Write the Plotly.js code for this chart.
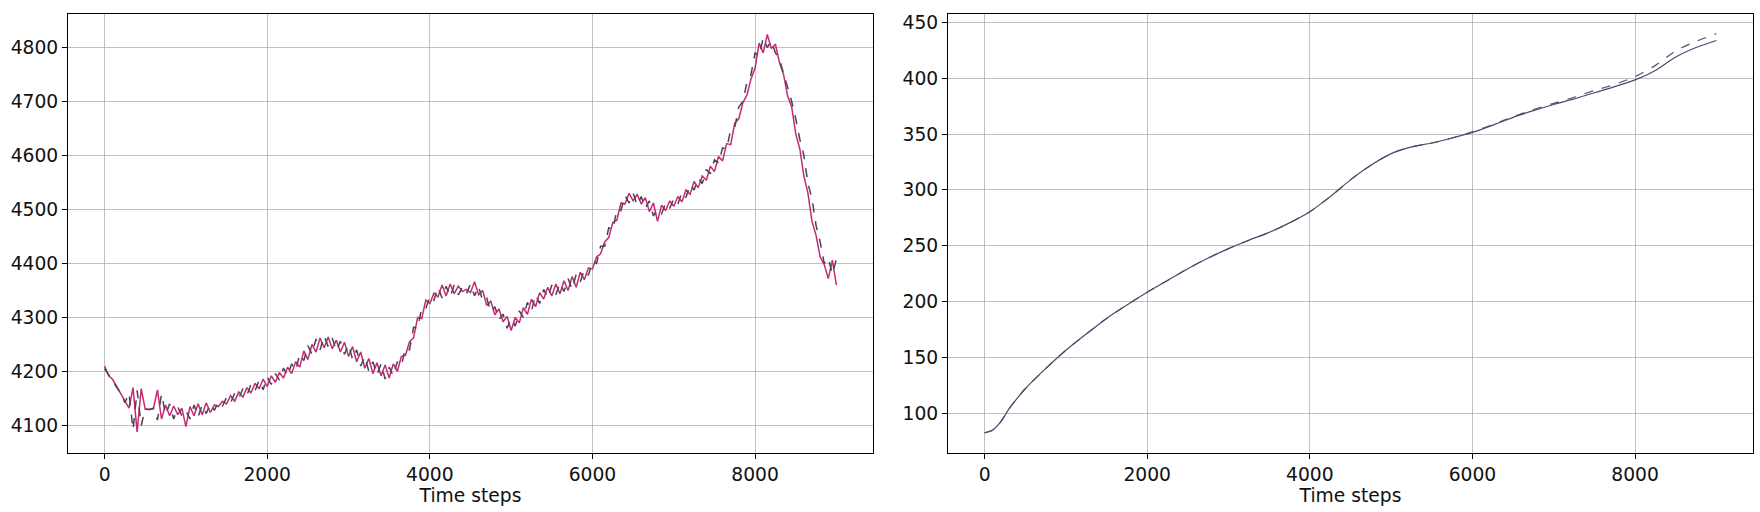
<!DOCTYPE html>
<html>
<head>
<meta charset="utf-8">
<script src="https://cdn.plot.ly/plotly-3.0.1.min.js"></script>
<style>html,body{margin:0;padding:0;background:#fff;}#chart{width:1760px;height:512px;}</style>
</head>
<body>
<div id="chart"></div>
<script>
// Left panel: time steps every 50
const leftSteps = [];
for (let i = 0; i <= 9000; i += 50) leftSteps.push(i);

const leftActual = [
4210,4192,4185,4172,4158,4145,4132,4170,4088,4168,
4130,4130,4131,4166,4112,4138,4118,4136,4120,4132,
4098,4135,4118,4140,4120,4142,4124,4138,4135,4145,
4140,4155,4145,4162,4152,4170,4160,4178,4168,4186,
4172,4192,4180,4198,4188,4208,4196,4218,4208,4238,
4222,4250,4236,4262,4244,4264,4242,4258,4236,4254,
4228,4246,4218,4236,4206,4224,4196,4216,4192,4212,
4188,4214,4200,4228,4230,4255,4262,4300,4298,4332,
4326,4345,4338,4360,4340,4362,4344,4358,4348,4352,
4346,4366,4342,4350,4322,4330,4305,4316,4292,4302,
4276,4300,4290,4318,4306,4334,4320,4346,4334,4356,
4340,4362,4344,4368,4350,4376,4356,4384,4370,4392,
4390,4412,4418,4440,4448,4476,4480,4512,4510,4530,
4516,4528,4510,4522,4496,4512,4478,4508,4498,4516,
4506,4524,4514,4536,4528,4552,4540,4562,4554,4580,
4570,4598,4590,4622,4620,4660,4668,4698,4712,4742,
4762,4808,4790,4824,4798,4806,4772,4750,4710,4690,
4640,4612,4562,4530,4478,4452,4412,4398,4372,4406,
4360
];

const leftPredicted = [
4205,4195,4183,4170,4160,4142,4160,4092,4165,4100,
4131,4129,4132,4110,4158,4120,4140,4112,4134,4118,
4128,4112,4138,4116,4138,4122,4140,4128,4144,4136,
4152,4142,4160,4150,4168,4156,4176,4164,4184,4166,
4190,4176,4196,4184,4206,4192,4214,4202,4232,4220,
4248,4232,4260,4240,4266,4246,4262,4238,4256,4232,
4250,4222,4240,4210,4228,4200,4218,4194,4214,4186,
4208,4192,4218,4210,4244,4240,4282,4280,4318,4316,
4340,4332,4356,4336,4358,4338,4360,4342,4356,4344,
4362,4340,4358,4330,4336,4310,4320,4296,4306,4280,
4298,4284,4312,4300,4328,4312,4342,4326,4352,4336,
4360,4342,4364,4348,4372,4352,4380,4366,4388,4378,
4404,4400,4432,4432,4466,4462,4500,4498,4526,4512,
4530,4508,4524,4502,4516,4488,4500,4492,4512,4502,
4520,4510,4532,4522,4546,4536,4558,4548,4574,4566,
4592,4586,4614,4612,4648,4652,4690,4700,4736,4750,
4790,4784,4818,4800,4812,4790,4778,4752,4726,4700,
4668,4630,4600,4548,4520,4470,4440,4400,4410,4380,
4408
];

// Right panel
const rightSteps = [0,100,200,300,400,500,750,1000,1250,1500,1750,2000,2250,2500,2750,3000,3250,3500,3750,4000,4250,4500,4750,5000,5250,5500,5750,6000,6250,6500,6750,7000,7250,7500,7750,8000,8250,8500,8750,9000];
const rightActual = [82.5,85,92.5,104,113.5,122,140,156.5,171,185,197,208.5,219,229.5,239,247.5,255,262,270.5,280.5,294,309,322,332.5,338.5,342,346.5,351.5,358,365,371,376.5,381.5,387,392.5,398.5,407,419,427.5,433.8];
const rightPredicted = [82.5,85,92.5,104,113.5,122,140,156.5,171,185,197,208.5,219,229.5,239,247.5,255,262,270.5,280.5,294,309,322,332.5,338.5,342,346.5,352,358.5,365.5,372,377.5,383,389,394.5,401.5,411.5,424.5,433,439.8];

const xTicks = [0,2000,4000,6000,8000];
const leftYTicks = [4100,4200,4300,4400,4500,4600,4700,4800];
const rightYTicks = [100,150,200,250,300,350,400,450];

const font = {family: 'DejaVu Sans', size: 18.7, color: '#111'};

const traces = [
  {x: leftSteps, y: leftActual, xaxis: 'x', yaxis: 'y', type: 'scatter', mode: 'lines',
   line: {color: '#c41e6a', width: 1.5}, opacity: 0.95},
  {x: leftSteps, y: leftPredicted, xaxis: 'x', yaxis: 'y', type: 'scatter', mode: 'lines',
   line: {color: '#464655', width: 1.5, dash: 'dash'}, opacity: 1},
  {x: rightSteps, y: rightPredicted, xaxis: 'x2', yaxis: 'y2', type: 'scatter', mode: 'lines',
   line: {color: '#555560', width: 1.2, dash: 'dash', shape: 'spline', smoothing: 0.8}},
  {x: rightSteps, y: rightActual, xaxis: 'x2', yaxis: 'y2', type: 'scatter', mode: 'lines',
   line: {color: '#4a4a6e', width: 1.2, shape: 'spline', smoothing: 0.8}}
];

function xax(domain, anchor) {
  return {domain: domain, anchor: anchor, range: [-450, 9450], tickvals: xTicks,
    ticktext: xTicks.map(String), showline: true, mirror: true, linecolor: '#000', linewidth: 1,
    ticks: 'outside', ticklen: 5, tickcolor: '#000', showgrid: true, gridcolor: '#b0b0b0', gridwidth: 0.8,
    zeroline: false, tickfont: font, title: {text: 'Time steps', font: font, standoff: 2}};
}
function yax(domain, anchor, range, ticks) {
  return {domain: domain, anchor: anchor, range: range, tickvals: ticks, ticktext: ticks.map(String),
    showline: true, mirror: true, linecolor: '#000', linewidth: 1,
    ticks: 'outside', ticklen: 5, tickcolor: '#000', showgrid: true, gridcolor: '#b0b0b0', gridwidth: 0.8,
    zeroline: false, tickfont: font};
}

const yDom = [1 - 453/512, 1 - 14/512];
const layout = {
  width: 1760, height: 512,
  margin: {l: 0, r: 0, t: 0, b: 0},
  paper_bgcolor: '#fff', plot_bgcolor: '#fff',
  showlegend: false,
  xaxis: xax([68/1760, 873/1760], 'y'),
  yaxis: yax(yDom, 'x', [4049, 4862], leftYTicks),
  xaxis2: xax([948/1760, 1753/1760], 'y2'),
  yaxis2: yax(yDom, 'x2', [64.5, 457.5], rightYTicks)
};

Plotly.newPlot('chart', traces, layout, {displayModeBar: false, staticPlot: true});
</script>
</body>
</html>
